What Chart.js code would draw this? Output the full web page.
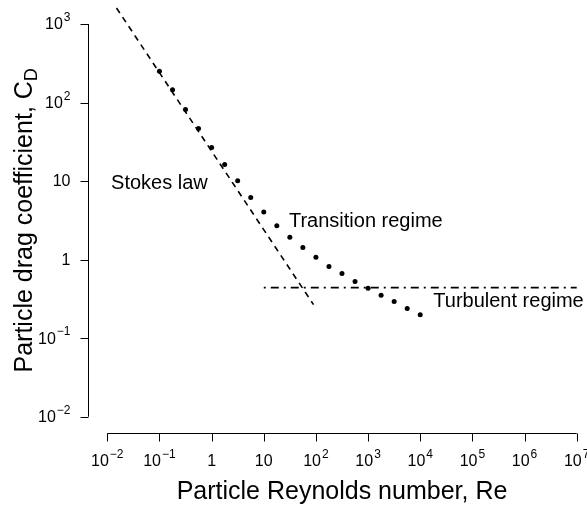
<!DOCTYPE html>
<html>
<head>
<meta charset="utf-8">
<script src="https://cdn.jsdelivr.net/npm/chart.js@4"></script>
<style>
  html, body { margin: 0; padding: 0; background: #fff; }
  #wrap { width: 587px; height: 507px; position: relative; }
</style>
</head>
<body>
<div id="wrap"><canvas id="chart"></canvas></div>
<script>
// Stokes law line (dashed)
const stokesRe = [0.015, 90];
const stokesCd = [1600, 0.267];

// measured points (dots)
const dotRe = [0.1, 0.178, 0.316, 0.562, 1, 1.78, 3.16, 5.62, 10, 17.8, 31.6, 56.2,
               100, 178, 316, 562, 1000, 1778, 3162, 5623, 10000];
const dotCd = [250, 145, 81.5, 46.6, 26.7, 16.2, 10.1, 6.2, 4.05, 2.69, 1.92, 1.43,
               1.07, 0.817, 0.667, 0.525, 0.431, 0.351, 0.294, 0.238, 0.199];

// turbulent regime (dash-dot, constant)
const turbRe = [10, 1e7];
const turbCd = [0.44, 0.44];

// tick labels: base + exponent
const xTicks = [0.01, 0.1, 1, 10, 100, 1e3, 1e4, 1e5, 1e6, 1e7];
const xTickBase = ['10', '10', '1', '10', '10', '10', '10', '10', '10', '10'];
const xTickExp = ['-2', '-1', '', '', '2', '3', '4', '5', '6', '7'];
const yTicks = [0.01, 0.1, 1, 10, 100, 1000];
const yTickBase = ['10', '10', '1', '10', '10', '10'];
const yTickExp = ['-2', '-1', '', '', '2', '3'];

// annotation texts and where they sit (data coords, left edge / middle)
const notes = ['Stokes law', 'Transition regime', 'Turbulent regime'];
const noteRe = [0.0118, 30.4, 17800];
const noteCd = [9.3, 3.05, 0.294];

const FONT = '"Liberation Sans", Arial, Helvetica, sans-serif';

function pts(xs, ys) {
    return xs.map((x, i) => ({ x: x, y: ys[i] }));
}

// draw "10" with superscript
function drawPow(ctx, base, exp, x, y, align) {
    ctx.font = '16px ' + FONT;
    const wb = ctx.measureText(base).width;
    ctx.font = '12px ' + FONT;
    const we = exp ? ctx.measureText(exp.replace('-', '\u2212')).width : 0;
    const total = wb + (exp ? 1 + we : 0);
    let left = x;
    if (align === 'center') left = x - total / 2;
    if (align === 'right') left = x - total;
    ctx.textAlign = 'left';
    ctx.textBaseline = 'middle';
    ctx.font = '16px ' + FONT;
    ctx.fillText(base, left, y);
    if (exp) {
        ctx.font = '12px ' + FONT;
        ctx.fillText(exp.replace('-', '\u2212'), left + wb + 1, y - 7);
    }
}

const axesPlugin = {
    id: 'rAxes',
    afterDraw(chart) {
        const ctx = chart.ctx;
        const xs = chart.scales.x, ys = chart.scales.y;
        const area = chart.chartArea;
        ctx.save();
        ctx.strokeStyle = '#000';
        ctx.fillStyle = '#000';
        ctx.lineWidth = 1;

        // y axis
        const ax = Math.round(area.left - 19) + 0.5;
        const yTop = ys.getPixelForValue(yTicks[yTicks.length - 1]);
        const yBot = ys.getPixelForValue(yTicks[0]);
        ctx.beginPath();
        ctx.moveTo(ax, yTop);
        ctx.lineTo(ax, yBot);
        yTicks.forEach(v => {
            const p = Math.round(ys.getPixelForValue(v)) + 0.5;
            ctx.moveTo(ax - 8, p);
            ctx.lineTo(ax, p);
        });
        ctx.stroke();
        yTicks.forEach((v, i) => {
            drawPow(ctx, yTickBase[i], yTickExp[i], ax - 18, ys.getPixelForValue(v) + 1, 'right');
        });

        // x axis
        const ay = Math.round(area.bottom + 16) + 0.5;
        const xL = xs.getPixelForValue(xTicks[0]);
        const xR = xs.getPixelForValue(xTicks[xTicks.length - 1]);
        ctx.beginPath();
        ctx.moveTo(xL, ay);
        ctx.lineTo(xR, ay);
        xTicks.forEach(v => {
            const p = Math.round(xs.getPixelForValue(v)) + 0.5;
            ctx.moveTo(p, ay);
            ctx.lineTo(p, ay + 8);
        });
        ctx.stroke();
        xTicks.forEach((v, i) => {
            drawPow(ctx, xTickBase[i], xTickExp[i], xs.getPixelForValue(v), ay + 28, 'center');
        });

        // axis titles
        ctx.font = '25px ' + FONT;
        ctx.textAlign = 'center';
        ctx.textBaseline = 'alphabetic';
        ctx.fillText('Particle Reynolds number, Re', (xL + xR) / 2, 499);

        ctx.save();
        ctx.translate(32, (yTop + yBot) / 2);
        ctx.rotate(-Math.PI / 2);
        const t1 = 'Particle drag coefficient, C';
        ctx.font = '25px ' + FONT;
        const w1 = ctx.measureText(t1).width;
        ctx.font = '18px ' + FONT;
        const w2 = ctx.measureText('D').width;
        const start = -(w1 + w2) / 2;
        ctx.textAlign = 'left';
        ctx.font = '25px ' + FONT;
        ctx.fillText(t1, start, 0);
        ctx.font = '18px ' + FONT;
        ctx.fillText('D', start + w1, 5);
        ctx.restore();

        // annotations
        ctx.font = '20px ' + FONT;
        ctx.textAlign = 'left';
        ctx.textBaseline = 'middle';
        notes.forEach((t, i) => {
            ctx.fillText(t, xs.getPixelForValue(noteRe[i]), ys.getPixelForValue(noteCd[i]));
        });
        ctx.restore();
    }
};

new Chart(document.getElementById('chart'), {
    type: 'scatter',
    data: {
        datasets: [
            {
                label: 'Stokes law',
                data: pts(stokesRe, stokesCd),
                showLine: true,
                borderColor: '#000',
                borderWidth: 1.6,
                borderDash: [6, 5],
                pointRadius: 0,
                clip: false
            },
            {
                label: 'Measured',
                data: pts(dotRe, dotCd),
                showLine: false,
                pointRadius: 2.5,
                pointBackgroundColor: '#000',
                pointBorderWidth: 0,
                clip: false
            },
            {
                label: 'Turbulent',
                data: pts(turbRe, turbCd),
                showLine: true,
                borderColor: '#000',
                borderWidth: 1.6,
                borderDash: [2, 5, 8, 5],
                pointRadius: 0,
                clip: false
            }
        ]
    },
    options: {
        responsive: true,
        maintainAspectRatio: false,
        animation: false,
        layout: { padding: { left: 107.3, right: 10.3, top: 24, bottom: 90.3 } },
        plugins: { legend: { display: false }, tooltip: { enabled: false } },
        scales: {
            x: { type: 'logarithmic', min: 0.01, max: 1e7, display: false },
            y: { type: 'logarithmic', min: 0.01, max: 1000, display: false }
        }
    },
    plugins: [axesPlugin]
});
</script>
</body>
</html>
